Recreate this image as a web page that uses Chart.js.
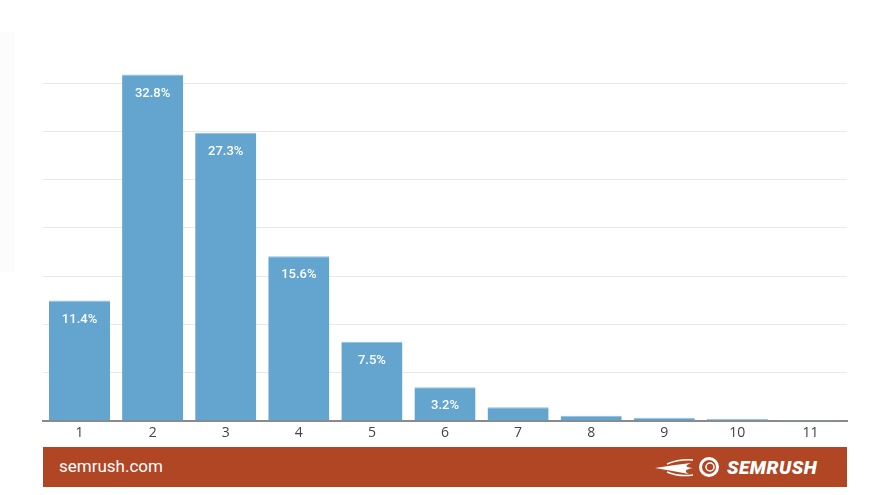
<!DOCTYPE html>
<html>
<head>
<meta charset="utf-8">
<script src="https://cdn.jsdelivr.net/npm/chart.js@4/dist/chart.umd.min.js"></script>
<style>
  body { margin: 0; background: #fff; font-family: Roboto, sans-serif; }
  #wrap { position: relative; width: 885px; height: 495px; }
  #strip { position: absolute; left: 0; top: 32px; width: 15px; height: 240px; background: #fcfcfc; }
  #footer { position: absolute; left: 43px; top: 447px; width: 804px; height: 40px; background: #b04624; color: #fff; }
  #site { position: absolute; left: 16px; top: 9px; font-size: 17px; }
  #logo { position: absolute; left: 610px; top: 8px; height: 24px; }
  #logo span { position: absolute; left: 74px; top: 1px; font-size: 19px; font-weight: 900; font-style: italic; letter-spacing: 0.5px; }
</style>
</head>
<body>
<div id="wrap">
  <div id="strip"></div>
  <canvas id="chart" width="885" height="495"></canvas>
  <div id="footer">
    <div id="site">semrush.com</div>
    <div id="logo">
      <svg width="70" height="24" viewBox="0 0 70 24">
        <path d="M2 13 Q20 10 38 8 Q28 12 40 13 Q28 15 36 19 Q20 16 2 13 Z" fill="#fff"/>
        <path d="M14 9 Q26 4 40 5" stroke="#fff" stroke-width="1.5" fill="none"/>
        <path d="M14 17 Q26 22 40 20" stroke="#fff" stroke-width="1.5" fill="none"/>
        <circle cx="56" cy="12" r="8.5" fill="none" stroke="#fff" stroke-width="3"/>
        <circle cx="57" cy="12" r="4" fill="none" stroke="#fff" stroke-width="1.5"/>
      </svg>
      <span>SEMRUSH</span>
    </div>
  </div>
</div>
<script>
// Chart data
const positions = ["1", "2", "3", "4", "5", "6", "7", "8", "9", "10", "11"];
const shares = [11.4, 32.8, 27.3, 15.6, 7.5, 3.2, 1.3, 0.5, 0.3, 0.2, 0.1];
const gridTicks = [0, 4.57, 9.14, 13.71, 18.28, 22.85, 27.42, 31.99];

// Draw value labels inside the top of bars
const barLabels = {
  id: "barLabels",
  afterDatasetsDraw(chart) {
    const ctx = chart.ctx;
    const meta = chart.getDatasetMeta(0);
    ctx.save();
    ctx.fillStyle = "#fff";
    ctx.font = "500 13px Roboto, sans-serif";
    ctx.textAlign = "center";
    ctx.textBaseline = "middle";
    meta.data.forEach((bar, i) => {
      if (shares[i] < 3) return;
      ctx.fillText(shares[i].toFixed(1) + "%", bar.x, bar.y + 19);
    });
    ctx.restore();
  }
};

new Chart(document.getElementById("chart").getContext("2d"), {
  type: "bar",
  data: {
    labels: positions,
    datasets: [{
      data: shares,
      backgroundColor: "#64a5d0",
      borderColor: "#8cc0e2",
      borderWidth: { top: 1, left: 0, right: 0, bottom: 0 },
      categoryPercentage: 0.836,
      barPercentage: 1
    }]
  },
  options: {
    responsive: false,
    animation: false,
    layout: { padding: { left: 43, right: 38, top: 64, bottom: 50 } },
    plugins: { legend: { display: false }, tooltip: { enabled: false } },
    scales: {
      x: {
        grid: { display: false },
        border: { display: true, color: "#8a8a8a", width: 2 },
        ticks: { color: "#444", font: { family: "'Open Sans', sans-serif", size: 14 }, padding: -4 },
        afterFit: s => { s.height = 24; }
      },
      y: {
        min: 0,
        max: 33.8,
        afterBuildTicks: s => { s.ticks = gridTicks.map(v => ({ value: v })); },
        ticks: { display: false },
        grid: { color: "#e9e9e9", lineWidth: 1, drawTicks: false },
        border: { display: false },
        afterFit: s => { s.width = 0; }
      }
    }
  },
  plugins: [barLabels]
});
</script>
</body>
</html>
